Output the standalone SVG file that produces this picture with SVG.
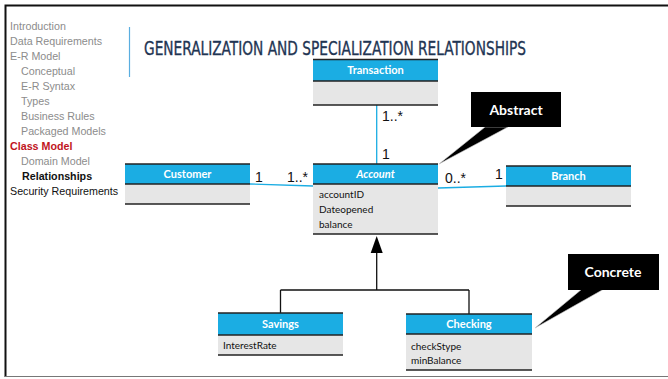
<svg xmlns="http://www.w3.org/2000/svg" width="668" height="379" viewBox="0 0 668 379">
<style>
.nav{font-family:"Liberation Sans",Arial,sans-serif;font-size:10.7px;fill:#8c8c8c}
.hdr{fill:#1badE3}
.body{fill:#e6e6e6}
.edge{stroke:#222;stroke-width:1.6}
.cname{font-family:"Lato","Liberation Sans",sans-serif;font-weight:bold;font-size:11px;fill:#fff;text-anchor:middle}
.attr{font-family:"Lato","Liberation Sans",sans-serif;font-size:10px;fill:#111}
.mult{font-family:"Liberation Sans",Arial,sans-serif;font-size:14px;fill:#111}
.assoc{stroke:#1badE3;stroke-width:1.3;fill:none}
.gen{stroke:#111;stroke-width:1.3;fill:none}
.callout{fill:#000}
.ctext{font-family:"Lato","Liberation Sans",sans-serif;font-weight:bold;font-size:14px;fill:#fff;text-anchor:middle}
</style>
<rect x="0" y="0" width="668" height="379" fill="#fff"/>
<path d="M5.5 377 V5.5 H668" fill="none" stroke="#111" stroke-width="2"/>
<line x1="5" y1="376.5" x2="668" y2="376.5" stroke="#777" stroke-width="1.2"/>
<g id="nav">
<text class="nav" x="10" y="30">Introduction</text>
<text class="nav" x="10" y="45">Data Requirements</text>
<text class="nav" x="10" y="60">E-R Model</text>
<text class="nav" x="21" y="75">Conceptual</text>
<text class="nav" x="21" y="90">E-R Syntax</text>
<text class="nav" x="21" y="105">Types</text>
<text class="nav" x="21" y="120">Business Rules</text>
<text class="nav" x="21" y="135">Packaged Models</text>
<text class="nav" x="10" y="150" style="fill:#c0141c;font-weight:bold">Class Model</text>
<text class="nav" x="21" y="165">Domain Model</text>
<text class="nav" x="22" y="180" style="fill:#111;font-weight:bold">Relationships</text>
<text class="nav" x="10" y="195" style="fill:#111">Security Requirements</text>
</g>
<line x1="129.5" y1="27" x2="129.5" y2="77" stroke="#5aaee0" stroke-width="1.2"/>
<text x="144" y="55" font-family="'DejaVu Sans Condensed','Liberation Sans',sans-serif" font-size="20" fill="#1f3553" stroke="#1f3553" stroke-width="0.35" textLength="382" lengthAdjust="spacingAndGlyphs">GENERALIZATION AND SPECIALIZATION RELATIONSHIPS</text>
<g id="connectors">
<line class="assoc" x1="376.7" y1="105" x2="376.7" y2="164"/>
<line class="assoc" x1="250" y1="184" x2="313" y2="186"/>
<line class="assoc" x1="438" y1="188" x2="506" y2="186"/>
<path class="gen" d="M376.7 252 V290 M280.5 290 H469 M280.5 290 V313 M469 290 V314"/>
<polygon points="376.7,236 370.7,253 382.7,253" fill="#000"/>
<text class="mult" x="382" y="121">1..*</text>
<text class="mult" x="382" y="159">1</text>
<text class="mult" x="255" y="182">1</text>
<text class="mult" x="287" y="182">1..*</text>
<text class="mult" x="445" y="183">0..*</text>
<text class="mult" x="495" y="179">1</text>
</g>
<g id="Transaction">
<rect class="hdr" x="313" y="59.5" width="125" height="21.5"/>
<rect class="body" x="313" y="81" width="125" height="24"/>
<line class="edge" x1="313" y1="59.5" x2="438" y2="59.5"/>
<line class="edge" x1="313" y1="81" x2="438" y2="81"/>
<line class="edge" x1="313" y1="105" x2="438" y2="105"/>
<text class="cname" x="375.5" y="74">Transaction</text>
</g>
<g id="Account">
<rect class="hdr" x="313" y="164" width="125" height="20"/>
<rect class="body" x="313" y="184" width="125" height="50"/>
<line class="edge" x1="313" y1="164" x2="438" y2="164"/>
<line class="edge" x1="313" y1="184" x2="438" y2="184"/>
<line class="edge" x1="313" y1="234" x2="438" y2="234"/>
<text class="cname" x="375.5" y="178" font-style="italic">Account</text>
<text class="attr" x="319" y="198">accountID</text>
<text class="attr" x="319" y="213">Dateopened</text>
<text class="attr" x="319" y="228">balance</text>
</g>
<g id="Customer">
<rect class="hdr" x="125" y="164" width="125" height="20"/>
<rect class="body" x="125" y="184" width="125" height="20"/>
<line class="edge" x1="125" y1="164" x2="250" y2="164"/>
<line class="edge" x1="125" y1="184" x2="250" y2="184"/>
<line class="edge" x1="125" y1="204" x2="250" y2="204"/>
<text class="cname" x="187.5" y="178">Customer</text>
</g>
<g id="Branch">
<rect class="hdr" x="506" y="166" width="125" height="20"/>
<rect class="body" x="506" y="186" width="125" height="20"/>
<line class="edge" x1="506" y1="166" x2="631" y2="166"/>
<line class="edge" x1="506" y1="186" x2="631" y2="186"/>
<line class="edge" x1="506" y1="206" x2="631" y2="206"/>
<text class="cname" x="568.5" y="180">Branch</text>
</g>
<g id="Savings">
<rect class="hdr" x="218" y="313" width="125" height="22"/>
<rect class="body" x="218" y="335" width="125" height="20"/>
<line class="edge" x1="218" y1="313" x2="343" y2="313"/>
<line class="edge" x1="218" y1="335" x2="343" y2="335"/>
<line class="edge" x1="218" y1="355" x2="343" y2="355"/>
<text class="cname" x="280.5" y="328">Savings</text>
<text class="attr" x="223" y="349">InterestRate</text>
</g>
<g id="Checking">
<rect class="hdr" x="406" y="314" width="126" height="20"/>
<rect class="body" x="406" y="334" width="126" height="36"/>
<line class="edge" x1="406" y1="314" x2="532" y2="314"/>
<line class="edge" x1="406" y1="334" x2="532" y2="334"/>
<line class="edge" x1="406" y1="370" x2="532" y2="370"/>
<text class="cname" x="469" y="328">Checking</text>
<text class="attr" x="411" y="350">checkStype</text>
<text class="attr" x="411" y="364">minBalance</text>
</g>
<g id="Abstract">
<polygon class="callout" points="485,127 508,127 439,164" stroke="#ccc" stroke-width="0.6"/>
<rect class="callout" x="471" y="92" width="90" height="35"/>
<text class="ctext" x="516" y="115">Abstract</text>
</g>
<g id="Concrete">
<polygon class="callout" points="582,289 604,289 535,328" stroke="#ccc" stroke-width="0.6"/>
<rect class="callout" x="568" y="254" width="91" height="36"/>
<text class="ctext" x="613" y="277">Concrete</text>
</g>
</svg>
